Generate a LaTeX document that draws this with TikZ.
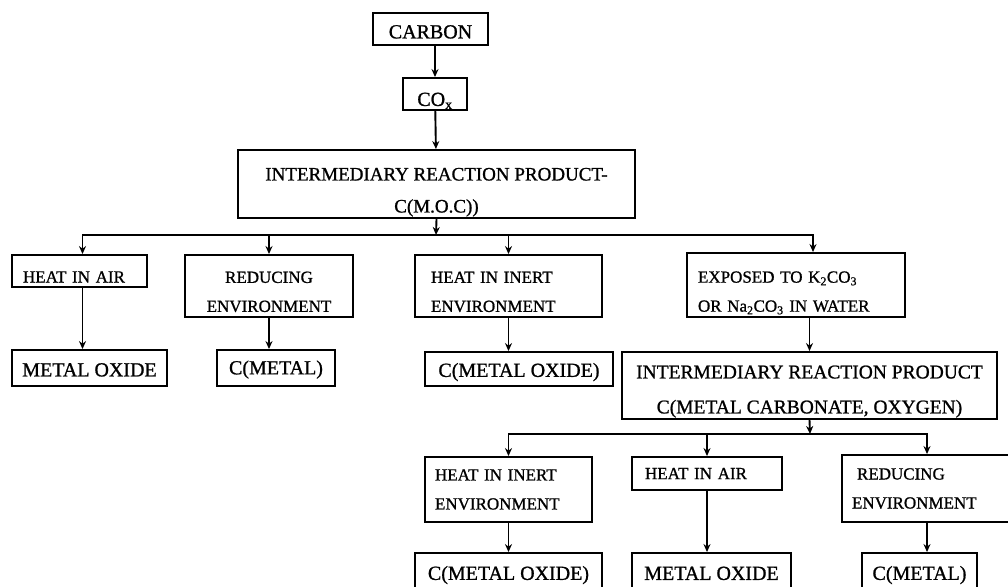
\documentclass[tikz,border=0pt]{standalone}
\usepackage{fontspec}
\setmainfont{Liberation Serif}[FakeBold=1]
\usetikzlibrary{arrows.meta,positioning}

% strut that pushes the text of a box down
\newcommand{\dn}[1]{\rule{0pt}{#1pt}}

\tikzset{
  box/.style={draw,line width=1.9pt,inner sep=0pt,align=center},
  cond/.style={box,font=\fontsize{17}{29}\selectfont},
  prod/.style={box,font=\fontsize{20}{24}\selectfont},
  leftbox/.style={align=left,inner xsep=11pt,text width=#1},
  arr/.style={line width=1.9pt,-{Stealth[length=8pt,width=7pt]}},
}

\begin{document}
\begin{tikzpicture}[x=1pt,y=-1pt]
  \useasboundingbox (0,0) rectangle (1008,586);
  \clip (0,0) rectangle (1008,586);

  % top chain
  \node[prod,minimum width=115pt,minimum height=32pt] (carbon) at (430.5,29) {\dn{19}CARBON};
  \node[prod,minimum width=64pt,minimum height=32pt] (cox) at (435,94) {\dn{27}CO\textsubscript{x}};
  \node[box,font=\fontsize{19}{32}\selectfont,minimum width=397pt,minimum height=68pt] (int1) at (436.5,184)
    {\dn{29}INTERMEDIARY REACTION PRODUCT-\\C(M.O.C))};

  % first branch
  \node[cond,minimum width=135pt,minimum height=32pt,leftbox=113pt] (air1) at (79.5,271) {\dn{23}HEAT IN AIR};
  \node[cond,minimum width=168pt,minimum height=62pt] (red1) at (269,286) {\dn{23}REDUCING\\ENVIRONMENT};
  \node[cond,minimum width=187pt,minimum height=62pt,leftbox=155pt,inner xsep=16pt] (inert1) at (508.5,286) {\dn{23}HEAT IN INERT\\ENVIRONMENT};
  \node[cond,minimum width=218pt,minimum height=64pt,leftbox=196pt] (exp) at (796,285)
    {\dn{27}EXPOSED TO K\textsubscript{2}CO\textsubscript{3}\\OR Na\textsubscript{2}CO\textsubscript{3} IN WATER};

  \node[prod,minimum width=155pt,minimum height=36pt] (mox1) at (89.5,368) {\dn{17}METAL OXIDE};
  \node[prod,minimum width=118pt,minimum height=36pt] (cmet1) at (276,368) {\dn{17}C(METAL)};
  \node[prod,minimum width=188pt,minimum height=34pt] (cmox1) at (519,369) {\dn{20}C(METAL OXIDE)};
  \node[box,font=\fontsize{19.5}{35}\selectfont,minimum width=375pt,minimum height=67pt] (int2) at (809.5,385.5)
    {\dn{25}INTERMEDIARY REACTION PRODUCT\\C(METAL CARBONATE, OXYGEN)};

  % second branch
  \node[cond,minimum width=167pt,minimum height=65pt,leftbox=147pt,inner xsep=10pt] (inert2) at (508.5,489.5) {HEAT IN INERT\\ENVIRONMENT};
  \node[cond,minimum width=150pt,minimum height=33pt,leftbox=124pt,inner xsep=13pt] (air2) at (707,473.5) {HEAT IN AIR};
  \node[cond,minimum width=170pt,minimum height=67pt,leftbox=150pt,inner xsep=10pt] (red2) at (927,488.5) {\hspace*{5pt}REDUCING\\ENVIRONMENT};

  \node[prod,minimum width=187pt,minimum height=37pt] (cmox2) at (508.5,571.5) {\dn{21}C(METAL OXIDE)};
  \node[prod,minimum width=159pt,minimum height=37pt] (mox2) at (711.5,571.5) {\dn{17}METAL OXIDE};
  \node[prod,minimum width=115pt,minimum height=37pt] (cmet2) at (919.5,571.5) {\dn{21}C(METAL)};

  \coordinate (bus1) at (436,235);
  \coordinate (bus2) at (810,434);

  % connectors
  \draw[arr] (carbon.south -| cox) -- (cox);
  \draw[arr] (cox) -- (int1);
  \draw[arr] (int1.south) -- (bus1);
  \draw[arr] (bus1) -| ([xshift=3pt]air1.north);
  \draw[arr] (bus1) -| (red1.north);
  \draw[arr] (bus1) -| (inert1.north);
  \draw[arr] (bus1) -| ([xshift=17pt]exp.north);

  \draw[arr] ([xshift=3pt]air1.south) -- ([xshift=3pt]air1.south |- mox1.north);
  \draw[arr] (red1.south) -- (red1.south |- cmet1.north);
  \draw[arr] (inert1.south) -- (inert1.south |- cmox1.north);
  \draw[arr] (exp.south -| int2) -- (int2.north);

  \draw[arr] (int2.south) -- (bus2);
  \draw[arr] (bus2) -| (inert2.north);
  \draw[arr] (bus2) -| (air2.north);
  \draw[arr] (bus2) -| (red2.north);

  \draw[arr] (inert2) -- (cmox2);
  \draw[arr] (air2.south) -- (air2.south |- mox2.north);
  \draw[arr] (red2.south) -- (red2.south |- cmet2.north);
\end{tikzpicture}
\end{document}
